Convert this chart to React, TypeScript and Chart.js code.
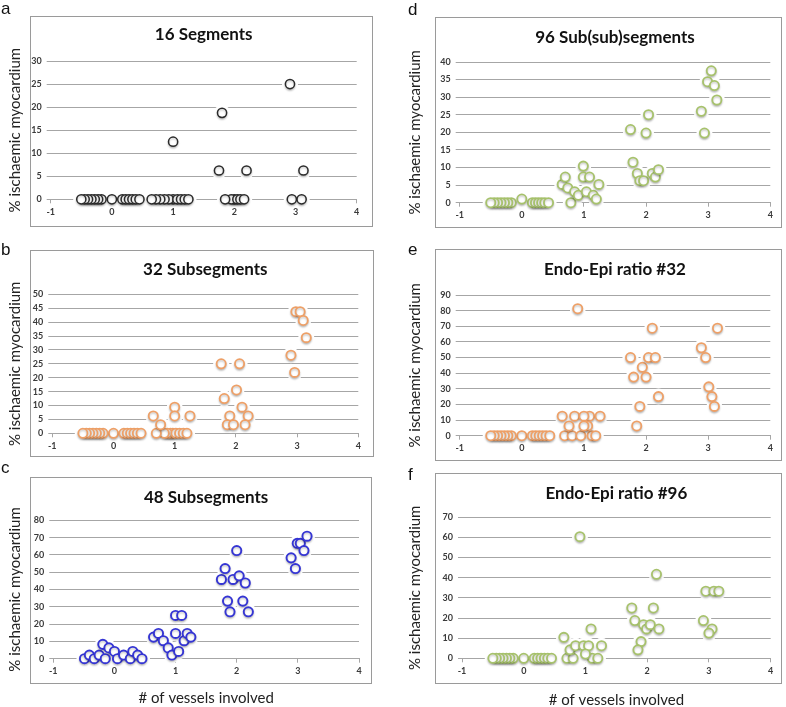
import React, { useEffect, useRef } from "react";
import { Chart, registerables } from "chart.js";

Chart.register(...registerables);

// ---------- data ----------
const xMin = -1;
const xMax = 4;
const xStep = 1;
const yAxisTitle = "% ischaemic myocardium";
const xAxisTitle = "# of vessels involved";

// patients without vessel involvement (shared jitter positions, zero row)
const G0_X = [0, -0.17, -0.225, -0.28, -0.335, -0.39, -0.445, -0.5, 0.17, 0.225, 0.28, 0.335, 0.39, 0.45];
const G0_Y = [0, 0, 0, 0, 0, 0, 0, 0, 0, 0, 0, 0, 0, 0];

// a: 16 Segments
const aTitle = "16 Segments";
const aYMax = 30;
const aYStep = 5;
const aX = [...G0_X, 1.0, 0.93, 0.86, 0.79, 0.72, 0.65, 1.07, 1.13, 1.19, 1.25, 1.0, 2.0, 1.95, 1.85, 2.05, 2.1, 2.16, 1.75, 2.2, 1.8, 2.94, 3.1, 3.13, 2.91];
const aY = [...G0_Y, 0, 0, 0, 0, 0, 0, 0, 0, 0, 0, 12.5, 0, 0, 0, 0, 0, 0, 6.25, 6.25, 18.75, 0, 0, 6.25, 25];

// b: 32 Subsegments
const bTitle = "32 Subsegments";
const bYMax = 50;
const bYStep = 5;
const bX = [...G0_X, 0.97, 0.93, 0.88, 0.83, 0.7, 1.02, 1.08, 1.14, 1.2, 0.65, 0.77, 1.0, 1.0, 1.25, 1.76, 2.06, 2.01, 1.81, 2.1, 1.9, 2.2, 1.86, 1.96, 2.15, 2.9, 2.96, 2.98, 3.05, 3.1, 3.15];
const bY = [...G0_Y, 0, 0, 0, 0, 0, 0, 0, 0, 0, 6.25, 3.1, 9.4, 6.25, 6.25, 25, 25, 15.6, 12.5, 9.4, 6.25, 6.25, 3.1, 3.1, 3.1, 28.1, 21.9, 43.75, 43.75, 40.6, 34.4];

// c: 48 Subsegments
const cTitle = "48 Subsegments";
const cYMax = 80;
const cYStep = 10;
const cX = [-0.49, -0.41, -0.33, -0.25, -0.19, -0.15, -0.09, 0, 0.05, 0.15, 0.26, 0.3, 0.38, 0.45, 0.64, 0.72, 0.8, 0.88, 0.94, 1.0, 1.0, 1.05, 1.1, 1.14, 1.19, 1.25, 1.75, 1.81, 1.85, 1.89, 1.94, 2.0, 2.04, 2.1, 2.14, 2.19, 2.89, 2.96, 2.99, 3.04, 3.1, 3.15];
const cY = [0, 2.1, 0, 2.1, 8.3, 0, 6.25, 4.2, 0, 2.1, 0, 4.2, 2.1, 0, 12.5, 14.6, 10.4, 6.25, 2.1, 25, 14.6, 4.2, 25, 10.4, 14.6, 12.5, 45.8, 52.1, 33.3, 27.1, 45.8, 62.5, 47.9, 33.3, 43.75, 27.1, 58.3, 52.1, 66.7, 66.7, 62.5, 70.8];

// d: 96 Sub(sub)segments
const dTitle = "96 Sub(sub)segments";
const dYMax = 40;
const dYStep = 5;
const dX = [-0.17, -0.225, -0.28, -0.335, -0.39, -0.445, -0.5, 0.17, 0.22, 0.27, 0.32, 0.37, 0.43, 0, 0.65, 0.7, 0.74, 0.79, 0.85, 0.91, 0.99, 0.99, 1.04, 1.09, 1.15, 1.2, 1.24, 1.75, 2.04, 2.0, 1.79, 1.86, 1.9, 1.96, 2.1, 2.15, 2.2, 3.05, 2.99, 3.1, 3.14, 2.89, 2.94];
const dY = [0, 0, 0, 0, 0, 0, 0, 0, 0, 0, 0, 0, 0, 1.04, 5.2, 7.3, 4.2, 0, 3.1, 2.1, 10.4, 7.3, 3.1, 7.3, 2.1, 1.04, 5.2, 20.8, 25, 19.8, 11.5, 8.3, 6.25, 6.25, 8.3, 7.3, 9.4, 37.5, 34.4, 33.3, 29.2, 26.0, 19.8];

// e: Endo-Epi ratio #32
const eTitle = "Endo-Epi ratio #32";
const eYMax = 90;
const eYStep = 10;
const eX = [...G0_X, 0.69, 0.81, 0.95, 1.13, 1.19, 0.65, 0.85, 1.09, 1.0, 1.26, 1.06, 0.76, 1.0, 0.9, 1.75, 1.94, 2.04, 2.15, 2.1, 1.8, 2.0, 2.2, 1.9, 1.85, 2.89, 2.96, 3.01, 3.06, 3.1, 3.15];
const eY = [...G0_Y, 0, 0, 0, 0, 0, 12.5, 12.5, 12.5, 12.5, 12.5, 6.25, 6.25, 6.25, 81.25, 50, 43.75, 50, 50, 68.75, 37.5, 37.5, 25, 18.75, 6.25, 56.25, 50, 31.25, 25, 18.75, 68.75];

// f: Endo-Epi ratio #96
const fTitle = "Endo-Epi ratio #96";
const fYMax = 70;
const fYStep = 10;
const fX = [...G0_X, 0.7, 0.8, 1.11, 1.2, 0.65, 0.75, 0.84, 0.97, 1.05, 1.26, 1.0, 1.09, 0.91, 1.75, 2.1, 1.8, 1.94, 1.99, 2.05, 2.19, 1.9, 1.85, 2.15, 2.91, 3.05, 3.0, 2.95, 3.08, 3.16];
const fY = [...G0_Y, 0, 0, 0, 0, 10.4, 4.2, 6.25, 6.25, 6.25, 6.25, 2.1, 14.6, 60.4, 25, 25, 18.75, 16.7, 14.6, 16.7, 14.6, 8.3, 4.2, 41.7, 18.75, 14.6, 12.5, 33.3, 33.3, 33.3];

// ---------- styling / layout ----------
const FONT = "Lato, 'Open Sans', 'DejaVu Sans', sans-serif";
const GRID = "#a6a6a6";
const BOX = "#9a9a9a";
const TITLE_SIZE = 17;

type Geo = {
  canvas: [number, number, number, number];
  box: [number, number, number, number];
  plot: { l: number; r: number; t: number; b: number };
  titleY: number;
  yTitleX: number;
  xTitleY?: number;
  letter: [string, number, number];
};

const panels = [
  { title: aTitle, xs: aX, ys: aY, yMax: aYMax, yStep: aYStep, color: "#2a2a2a", bw: 1.5,
    geo: { canvas: [0, 14, 376, 214], box: [30, 16, 372, 226], plot: { l: 50.7, r: 356.7, t: 61, b: 199.3 }, titleY: 35, yTitleX: 15, letter: ["a", 1, 0] } as Geo },
  { title: bTitle, xs: bX, ys: bY, yMax: bYMax, yStep: bYStep, color: "#eea067", bw: 1.8,
    geo: { canvas: [0, 248, 376, 210], box: [30, 250, 373, 456], plot: { l: 52.3, r: 358.3, t: 294.3, b: 433.3 }, titleY: 270, yTitleX: 15, letter: ["b", 1, 241] } as Geo },
  { title: cTitle, xs: cX, ys: cY, yMax: cYMax, yStep: cYStep, color: "#3535d4", bw: 1.9,
    geo: { canvas: [0, 475, 376, 232], box: [30, 477, 371, 683], plot: { l: 53.3, r: 359, t: 520.3, b: 658.7 }, titleY: 498, yTitleX: 15, xTitleY: 698, letter: ["c", 1, 459] } as Geo },
  { title: dTitle, xs: dX, ys: dY, yMax: dYMax, yStep: dYStep, color: "#a7c26c", bw: 1.8,
    geo: { canvas: [398, 15, 388, 214], box: [435, 17, 781, 227], plot: { l: 459.7, r: 770.3, t: 62, b: 202.7 }, titleY: 38, yTitleX: 414.7, letter: ["d", 408, 1] } as Geo },
  { title: eTitle, xs: eX, ys: eY, yMax: eYMax, yStep: eYStep, color: "#eea067", bw: 1.8,
    geo: { canvas: [398, 247, 388, 215], box: [435, 249, 781, 460], plot: { l: 459.7, r: 770.3, t: 295, b: 435.7 }, titleY: 270, yTitleX: 414.7, letter: ["e", 408, 241] } as Geo },
  { title: fTitle, xs: fX, ys: fY, yMax: fYMax, yStep: fYStep, color: "#a7c26c", bw: 1.8,
    geo: { canvas: [398, 471, 388, 236], box: [435, 473, 781, 683], plot: { l: 462, r: 770.7, t: 517.3, b: 658.3 }, titleY: 494, yTitleX: 414.7, xTitleY: 700, letter: ["f", 408, 466] } as Geo },
];

const boxPlugin = {
  id: "panelBox",
  beforeDraw(chart: any, _args: any, opts: any) {
    const ctx = chart.ctx;
    ctx.save();
    ctx.strokeStyle = opts.color;
    ctx.lineWidth = 1;
    ctx.strokeRect(Math.round(opts.x) + 0.5, Math.round(opts.y) + 0.5, Math.round(opts.w), Math.round(opts.h));
    ctx.restore();
  },
};

// soft drop shadow under the ring markers
const shadowPlugin = {
  id: "markerShadow",
  beforeDatasetDraw(chart: any, args: any) {
    if (args.index !== 0) return;
    const ctx = chart.ctx;
    ctx.save();
    ctx.shadowColor = "rgba(0,0,0,0.22)";
    ctx.shadowBlur = 2;
    ctx.shadowOffsetY = 1.5;
  },
  afterDatasetDraw(chart: any, args: any) {
    if (args.index !== 0) return;
    chart.ctx.restore();
  },
};

function Panel({ spec }: { spec: (typeof panels)[number] }) {
  const ref = useRef<HTMLCanvasElement>(null);
  useEffect(() => {
    const g = spec.geo;
    const [cx, cy, cw, ch] = g.canvas;
    const yw = g.plot.l - cx;
    const padR = cx + cw - g.plot.r;
    const xh = cy + ch - g.plot.b;
    const titleLH = TITLE_SIZE * 1.2;
    const tTop = g.titleY - cy - titleLH / 2;
    const tBot = g.plot.t - g.titleY - titleLH / 2;
    const axLH = 15 * 1.2;
    const yTitlePad = g.yTitleX - cx - axLH / 2;
    const xTitlePad = g.xTitleY !== undefined ? cy + ch - g.xTitleY - axLH / 2 : 0;
    const pts = spec.xs.map((x, i) => ({ x, y: spec.ys[i] }));

    const chart = new Chart(ref.current as HTMLCanvasElement, {
      type: "scatter",
      data: {
        datasets: [
          {
            data: pts,
            pointRadius: 4.6,
            pointHoverRadius: 4.6,
            pointBorderWidth: spec.bw,
            pointHoverBorderWidth: spec.bw,
            pointBorderColor: spec.color,
            pointBackgroundColor: "#ffffff",
            order: 1,
            clip: false,
          } as any,
          {
            data: pts,
            pointRadius: 8,
            pointHoverRadius: 8,
            pointBorderWidth: 0,
            pointBorderColor: "rgba(0,0,0,0)",
            pointBackgroundColor: "#ffffff",
            order: 2,
            clip: false,
          } as any,
        ],
      },
      options: {
        responsive: false,
        animation: false,
        events: [],
        layout: { padding: { left: 0, right: padR, top: 0, bottom: 0 } },
        plugins: {
          legend: { display: false },
          tooltip: { enabled: false },
          title: {
            display: true,
            text: spec.title,
            fullSize: false,
            color: "#111111",
            font: { family: FONT, size: TITLE_SIZE, weight: "bold", lineHeight: 1.2 },
            padding: { top: tTop, bottom: tBot },
          },
          panelBox: { x: g.box[0] - cx, y: g.box[1] - cy, w: g.box[2] - g.box[0], h: g.box[3] - g.box[1], color: BOX },
        } as any,
        scales: {
          x: {
            type: "linear",
            min: xMin,
            max: xMax,
            afterFit: (s: any) => { s.height = xh; },
            ticks: { stepSize: xStep, padding: 3, color: "#3a3a3a", font: { family: FONT, size: 9, weight: "bold" } },
            grid: { drawOnChartArea: false, drawTicks: true, tickLength: 4, color: GRID },
            border: { display: true, color: GRID },
            title: g.xTitleY !== undefined
              ? { display: true, text: xAxisTitle, color: "#222222", font: { family: FONT, size: 15, lineHeight: 1.2 }, padding: { top: 0, bottom: xTitlePad } }
              : { display: false },
          },
          y: {
            type: "linear",
            min: 0,
            max: spec.yMax,
            afterFit: (s: any) => { s.width = yw; },
            ticks: { stepSize: spec.yStep, padding: 5, color: "#3a3a3a", font: { family: FONT, size: 9, weight: "bold" } },
            grid: { drawOnChartArea: true, drawTicks: true, tickLength: 4, color: GRID },
            border: { display: false },
            title: { display: true, text: yAxisTitle, color: "#222222", font: { family: FONT, size: 15, lineHeight: 1.2 }, padding: { top: yTitlePad, bottom: 0 } },
          },
        },
      } as any,
      plugins: [boxPlugin, shadowPlugin],
    });
    return () => chart.destroy();
  }, [spec]);

  const [cx, cy, cw, ch] = spec.geo.canvas;
  return (
    <canvas
      ref={ref}
      width={cw}
      height={ch}
      style={{ position: "absolute", left: cx, top: cy, width: cw, height: ch }}
    />
  );
}

export default function App() {
  return (
    <div style={{ position: "absolute", left: 0, top: 0, width: 786, height: 707, overflow: "hidden", background: "#ffffff" }}>
      {panels.map((p, i) => (
        <Panel key={i} spec={p} />
      ))}
      {panels.map((p, i) => (
        <div
          key={"l" + i}
          style={{
            position: "absolute",
            left: p.geo.letter[1],
            top: p.geo.letter[2],
            fontFamily: "'Liberation Sans', Arial, sans-serif",
            fontSize: 17,
            lineHeight: "17px",
            color: "#111",
          }}
        >
          {p.geo.letter[0]}
        </div>
      ))}
    </div>
  );
}
